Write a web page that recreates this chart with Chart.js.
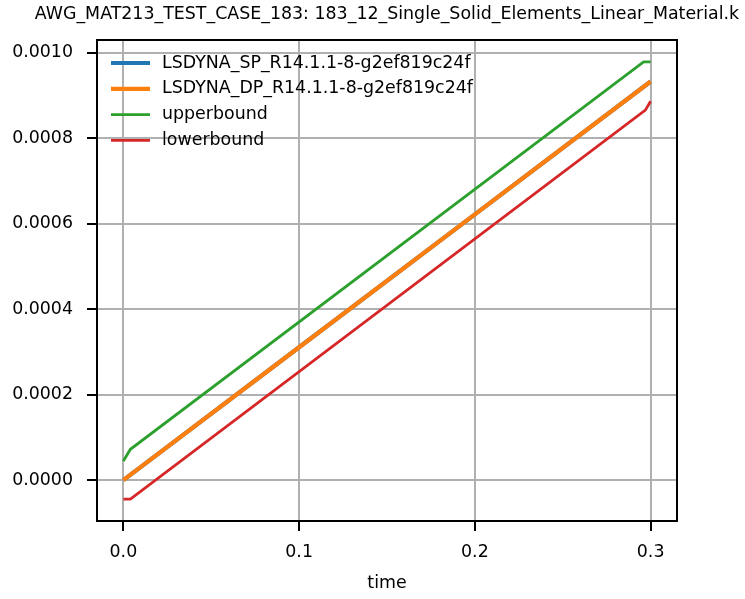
<!DOCTYPE html>
<html>
<head>
<meta charset="utf-8">
<script src="https://cdn.jsdelivr.net/npm/chart.js@4/dist/chart.umd.min.js"></script>
<style>
  body { margin: 0; background: #fff; }
  #wrap { width: 745px; height: 599px; }
</style>
</head>
<body>
<div id="wrap"><canvas id="chart" width="745" height="599"></canvas></div>
<script>
const titleText = "AWG_MAT213_TEST_CASE_183: 183_12_Single_Solid_Elements_Linear_Material.k";
const xLabel = "time";

const seriesNames = ["LSDYNA_SP_R14.1.1-8-g2ef819c24f", "LSDYNA_DP_R14.1.1-8-g2ef819c24f", "upperbound", "lowerbound"];
const seriesColors = ["#1f77b4", "#ff7f0e", "#2ca02c", "#d62728"];

const spTime = [0, 0.1, 0.2, 0.3];
const spValue = [0, 0.000311, 0.000622, 0.000933];
const dpTime = [0, 0.1, 0.2, 0.3];
const dpValue = [0, 0.000311, 0.000622, 0.000933];
const upperTime = [0, 0.004, 0.296, 0.3];
const upperValue = [0.0000446, 0.000072, 0.000979, 0.000979];
const lowerTime = [0, 0.004, 0.297, 0.3];
const lowerValue = [-0.0000446, -0.0000446, 0.000866, 0.000887];

const xTicks = [0, 0.1, 0.2, 0.3];
const xTickLabels = ["0.0", "0.1", "0.2", "0.3"];
const yTicks = [0, 0.0002, 0.0004, 0.0006, 0.0008, 0.001];
const yTickLabels = ["0.0000", "0.0002", "0.0004", "0.0006", "0.0008", "0.0010"];

const FONT = "'DejaVu Sans', sans-serif";
const FSIZE = 17.4;

function toPoints(xs, ys) {
  return xs.map((x, i) => ({ x: x, y: ys[i] }));
}

const allSeries = [[spTime, spValue], [dpTime, dpValue], [upperTime, upperValue], [lowerTime, lowerValue]];
const widths = [4.2, 4.2, 2.8, 2.8];

const datasets = allSeries.map((s, i) => ({
  label: seriesNames[i],
  data: toPoints(s[0], s[1]),
  borderColor: seriesColors[i],
  backgroundColor: seriesColors[i],
  borderWidth: widths[i],
  pointRadius: 0,
  showLine: true,
  fill: false,
  tension: 0,
  order: 4 - i
}));

// title, frame and legend drawn in the plot
const extras = {
  id: "extras",
  afterDraw(chart) {
    const ctx = chart.ctx;
    const a = chart.chartArea;
    ctx.save();
    ctx.strokeStyle = "#000";
    ctx.lineWidth = 2;
    ctx.strokeRect(a.left, a.top, a.right - a.left, a.bottom - a.top);

    ctx.fillStyle = "#000";
    ctx.font = FSIZE + "px " + FONT;
    ctx.textAlign = "center";
    ctx.textBaseline = "middle";
    ctx.fillText(titleText, (a.left + a.right) / 2, 14);

    ctx.textAlign = "left";
    chart.data.datasets.forEach((d, i) => {
      const y = 63 + i * 25.8;
      ctx.strokeStyle = d.borderColor;
      ctx.lineWidth = d.borderWidth;
      ctx.beginPath();
      ctx.moveTo(111, y);
      ctx.lineTo(150, y);
      ctx.stroke();
      ctx.fillStyle = "#000";
      ctx.fillText(d.label, 162, y);
    });
    ctx.restore();
  }
};

new Chart(document.getElementById("chart"), {
  type: "scatter",
  data: { datasets: datasets },
  plugins: [extras],
  options: {
    responsive: false,
    animation: false,
    layout: { padding: { left: 0, right: 68, top: 40, bottom: 0 } },
    plugins: { legend: { display: false }, tooltip: { enabled: false } },
    scales: {
      x: {
        type: "linear",
        min: -0.015,
        max: 0.315,
        afterFit(scale) { scale.height = 78; },
        afterBuildTicks(scale) { scale.ticks = xTicks.map(v => ({ value: v })); },
        ticks: {
          color: "#000",
          font: { family: FONT, size: FSIZE },
          padding: 11,
          maxRotation: 0,
          callback: (v, i) => xTickLabels[i]
        },
        grid: { color: "#b0b0b0", lineWidth: 2, tickColor: "#000", tickLength: 10, tickWidth: 2 },
        border: { color: "#000", width: 2 },
        title: { display: true, text: xLabel, color: "#000", font: { family: FONT, size: FSIZE }, padding: { top: 0, bottom: 5 } }
      },
      y: {
        type: "linear",
        min: -0.0000958,
        max: 0.0010302,
        afterFit(scale) { scale.width = 97; },
        afterBuildTicks(scale) { scale.ticks = yTicks.map(v => ({ value: v })); },
        ticks: {
          color: "#000",
          font: { family: FONT, size: FSIZE },
          padding: 14,
          callback: (v, i) => yTickLabels[i]
        },
        grid: { color: "#b0b0b0", lineWidth: 2, tickColor: "#000", tickLength: 10, tickWidth: 2 },
        border: { color: "#000", width: 2 }
      }
    }
  }
});
</script>
</body>
</html>
